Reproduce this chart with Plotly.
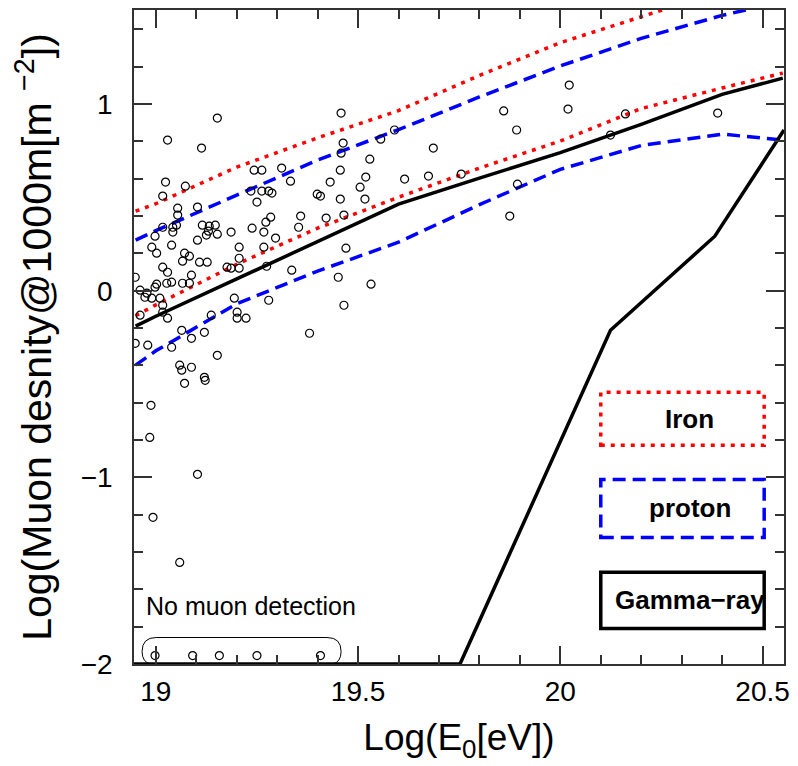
import plotly.graph_objects as go

# ---------------- data ----------------
energy_grid = [18.95, 19.0, 19.2, 19.4, 19.6, 19.8, 20.0, 20.2, 20.4, 20.55]

iron_upper   = [0.426, 0.466, 0.662, 0.819, 0.965, 1.153, 1.329, 1.467, 1.606, 1.71]
iron_lower   = [-0.134, -0.076, 0.142, 0.335, 0.501, 0.657, 0.802, 0.976, 1.086, 1.166]
proton_upper = [0.271, 0.322, 0.512, 0.700, 0.863, 1.038, 1.204, 1.352, 1.475, 1.55]
proton_lower = [-0.399, -0.322, -0.070, 0.105, 0.260, 0.461, 0.650, 0.778, 0.839, 0.807]
mean_line    = [-0.190, -0.137, 0.063, 0.264, 0.464, 0.603, 0.740, 0.891, 1.052, 1.139]

gamma_energy = [18.90, 19.752, 20.124, 20.382, 20.553]
gamma_density = [-2.0, -2.0, -0.212, 0.292, 0.861]

event_energy = [
    19.152, 19.029, 19.113, 19.024, 19.073, 19.017, 19.054, 19.054, 19.103, 19.243,
    19.262, 19.235, 19.262, 19.279, 19.287, 19.250, 19.115, 19.132, 19.147, 19.130,
    19.152, 19.125, 19.186, 19.042, 19.051, 19.042, 19.017, 18.998, 19.103, 19.238,
    19.267, 19.284, 19.272, 19.039, 18.990, 19.206, 19.267, 19.002, 19.071, 19.083,
    19.066, 19.108, 19.127, 19.206, 19.206, 19.186, 19.176, 19.274, 19.017, 19.029,
    18.949, 19.088, 19.083, 19.039, 19.027, 19.002, 18.998, 19.066, 18.961, 18.978,
    18.990, 19.010, 18.973, 19.017, 18.961, 19.017, 19.029, 19.194, 19.201, 19.201,
    19.223, 19.137, 18.949, 18.980, 19.039, 19.064, 19.088, 19.120, 19.152, 19.059,
    19.088, 19.064, 19.120, 19.279, 19.458, 19.463, 19.458, 19.529, 19.590, 19.556,
    19.615, 19.456, 19.311, 19.333, 19.431, 19.519, 19.505, 19.517, 19.456, 19.399,
    19.407, 19.358, 19.353, 19.296, 19.421, 19.465, 19.470, 19.336, 19.451, 19.532,
    19.380, 19.465, 20.022, 19.860, 20.019, 19.892, 19.686, 20.161, 20.124, 20.389,
    19.674, 19.755, 19.894, 19.875, 19.071, 19.122, 18.988, 18.985, 19.103, 18.993,
    19.059,
]
event_density = [
    0.925, 0.807, 0.764, 0.582, 0.560, 0.507, 0.442, 0.405, 0.448, 0.646,
    0.646, 0.534, 0.534, 0.534, 0.523, 0.475, 0.351, 0.346, 0.351, 0.319,
    0.303, 0.298, 0.314, 0.340, 0.351, 0.314, 0.340, 0.292, 0.271, 0.335,
    0.314, 0.394, 0.367, 0.244, 0.233, 0.233, 0.233, 0.201, 0.201, 0.185,
    0.158, 0.153, 0.153, 0.174, 0.121, 0.121, 0.126, 0.131, 0.126, 0.099,
    0.072, 0.083, 0.040, 0.046, 0.040, 0.035, 0.019, 0.040, 0.003, -0.013,
    -0.040, -0.040, -0.035, -0.078, -0.131, -0.115, -0.147, -0.040, -0.115, -0.147,
    -0.147, -0.131, -0.282, -0.292, -0.303, -0.212, -0.255, -0.223, -0.346, -0.399,
    -0.410, -0.426, -0.464, -0.051, 0.952, 0.791, 0.737, 0.705, 0.861, 0.812,
    0.598, 0.646, 0.657, 0.587, 0.582, 0.609, 0.555, 0.491, 0.491, 0.517,
    0.507, 0.400, 0.340, 0.282, 0.389, 0.405, 0.228, 0.110, 0.072, 0.035,
    -0.228, -0.078, 1.102, 0.963, 0.973, 0.861, 0.764, 0.947, 0.834, 0.952,
    0.614, 0.625, 0.571, 0.400, -0.496, -0.480, -0.614, -0.786, -0.984, -1.214,
    -1.456,
]

no_muon_energy = [18.998, 19.091, 19.157, 19.250, 19.407]
no_muon_density = [-1.955, -1.955, -1.955, -1.955, -1.955]

x_tick_vals = [19, 19.5, 20, 20.5]
x_tick_text = ["19", "19.5", "20", "20.5"]
y_tick_vals = [-2, -1, 0, 1]
y_tick_text = ["\u22122", "\u22121", "0", "1"]

# ---------------- figure ----------------
FONT = "Liberation Sans, Arial, sans-serif"
RED = "#ff0000"
BLUE = "#0000ff"
DOT = "4px,6px"
DASH = "13px,7px"

fig = go.Figure()

def line(x, y, color, dash, width):
    fig.add_trace(go.Scatter(x=x, y=y, mode="lines",
                             line=dict(color=color, width=width, dash=dash),
                             showlegend=False, hoverinfo="skip"))

line(energy_grid, iron_upper, RED, DOT, 3.5)
line(energy_grid, iron_lower, RED, DOT, 3.5)
line(energy_grid, proton_upper, BLUE, DASH, 3.5)
line(energy_grid, proton_lower, BLUE, DASH, 3.5)
line(energy_grid, mean_line, "black", "solid", 3.5)
line(gamma_energy, gamma_density, "black", "solid", 3.5)

fig.add_trace(go.Scatter(x=event_energy, y=event_density, mode="markers",
                         marker=dict(symbol="circle-open", size=8, color="black",
                                     line=dict(width=1.2, color="black")),
                         showlegend=False, hoverinfo="skip"))
fig.add_trace(go.Scatter(x=no_muon_energy, y=no_muon_density, mode="markers",
                         marker=dict(symbol="circle-open", size=8, color="black",
                                     line=dict(width=1.2, color="black")),
                         showlegend=False, hoverinfo="skip", cliponaxis=False))

# rounded box around no-muon events
x0, x1, y0, y1 = 18.966, 19.458, -2.0, -1.858
rx, ry = 0.035, 0.075
path = (f"M {x0+rx},{y1} L {x1-rx},{y1} Q {x1},{y1} {x1},{y1-ry} "
        f"Q {x1},{y0+0.01} {x1-rx*0.6},{y0} "
        f"M {x0+rx*0.6},{y0} Q {x0},{y0+0.01} {x0},{y1-ry} Q {x0},{y1} {x0+rx},{y1}")
fig.add_shape(type="path", path=path, xref="x", yref="y",
              line=dict(color="black", width=1))

fig.add_annotation(x=18.97, y=-1.69, xref="x", yref="y", text="No muon detection",
                   showarrow=False, xanchor="left", yanchor="middle",
                   font=dict(family=FONT, size=25, color="black"))

# legend boxes
boxes = [
    ("Iron", RED, DOT, -0.544, -0.828),
    ("proton", BLUE, DASH, -1.011, -1.322),
    ("Gamma\u2212ray", "black", "solid", -1.509, -1.810),
]
for label, color, dash, ytop, ybot in boxes:
    fig.add_shape(type="rect", xref="x", yref="y", x0=20.100, x1=20.504,
                  y0=ybot, y1=ytop, line=dict(color=color, width=3.5, dash=dash))
    fig.add_annotation(x=20.32, y=(ytop + ybot) / 2, xref="x", yref="y",
                       text=f"<b>{label}</b>", showarrow=False,
                       font=dict(family=FONT, size=26, color="black"))

axis_common = dict(
    showline=True, linecolor="#333333", linewidth=1.5, mirror="ticks",
    ticks="inside", ticklen=18, tickwidth=1.5, tickcolor="#333333",
    showgrid=False, zeroline=False,
    tickfont=dict(family=FONT, size=28, color="black"),
)

fig.update_xaxes(range=[18.946, 20.553], tickmode="array", tickvals=x_tick_vals,
                 ticktext=x_tick_text, ticklabelstandoff=2,
                 minor=dict(ticks="inside", ticklen=9, tick0=19, dtick=0.1,
                            tickwidth=1.5, tickcolor="#333333"),
                 title=dict(text="Log(E<sub>0</sub>[eV])",
                            font=dict(family=FONT, size=37, color="black"),
                            standoff=18),
                 **axis_common)
fig.update_yaxes(range=[-2, 1.504], tickmode="array", tickvals=y_tick_vals,
                 ticktext=y_tick_text, ticklabelstandoff=14,
                 minor=dict(ticks="inside", ticklen=9, tick0=0, dtick=0.2,
                            tickwidth=1.5, tickcolor="#333333"),
                 title=dict(text="Log(Muon desnity@1000m[m <sup>\u22122</sup>])",
                            font=dict(family=FONT, size=41, color="black"),
                            standoff=16),
                 **axis_common)

fig.update_layout(width=798, height=766,
                  margin=dict(l=134, r=8, t=10, b=102),
                  paper_bgcolor="white", plot_bgcolor="white")

fig.write_html("out.html")
